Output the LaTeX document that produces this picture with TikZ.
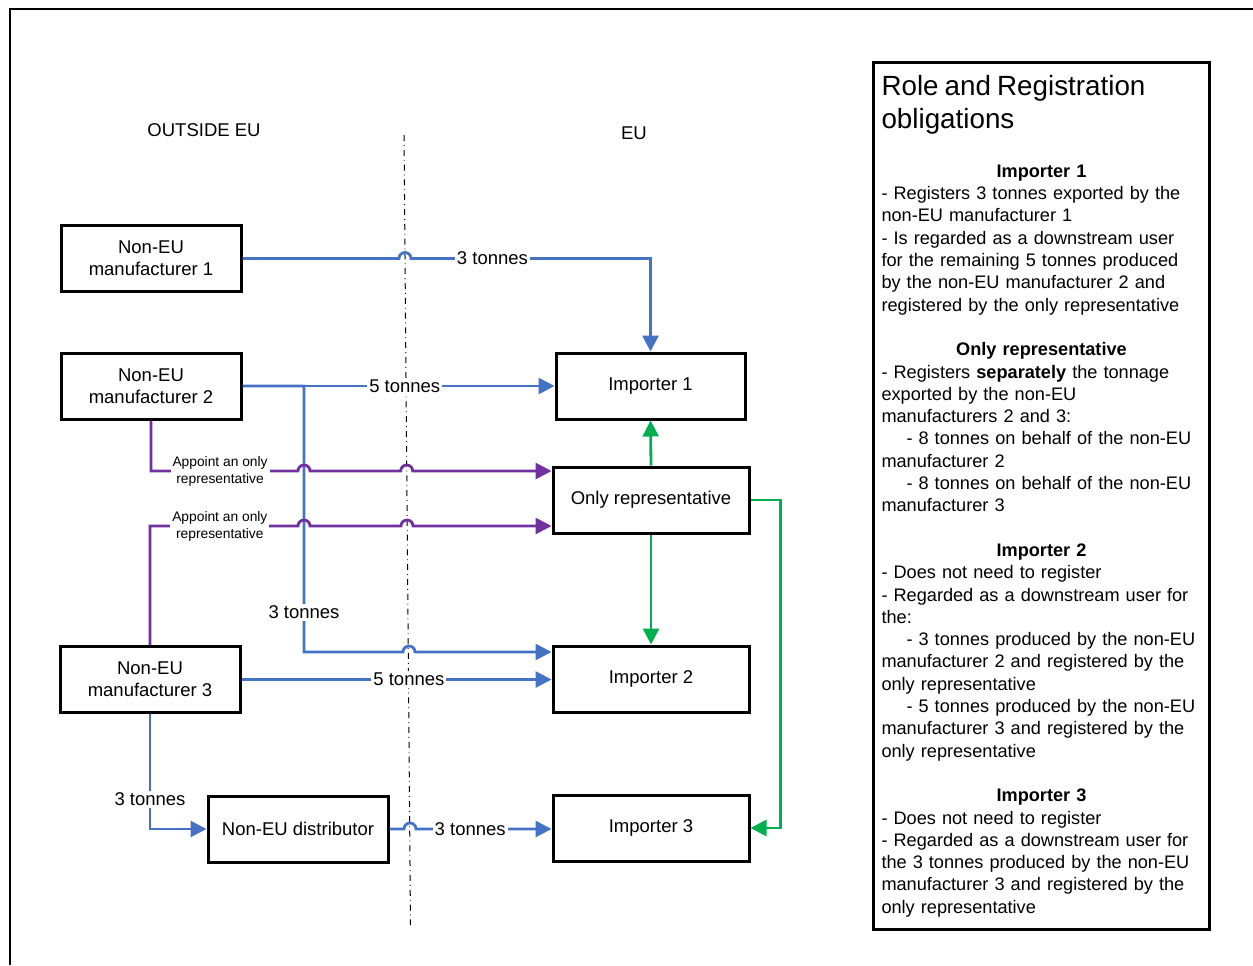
\documentclass[tikz,border=0pt]{standalone}
\usepackage{fontspec}
\setmainfont{Liberation Sans}
\usetikzlibrary{calc,arrows.meta}

\definecolor{flowblue}{RGB}{68,114,196}
\definecolor{apppurple}{RGB}{112,48,160}
\definecolor{orgreen}{RGB}{0,176,80}

\tikzstyle{box}=[draw, line width=1.5pt, align=center, minimum width=90pt, minimum height=33pt, inner sep=2pt]
\tikzstyle{flow}=[flowblue, line width=1.4pt, -{Triangle[length=8pt,width=8pt]}]
\tikzstyle{appoint}=[apppurple, line width=1.4pt, -{Triangle[length=8pt,width=8pt]}]
\tikzstyle{orflow}=[orgreen, line width=1.4pt, -{Triangle[length=8pt,width=8pt]}]
\tikzstyle{lbl}=[fill=white, inner sep=1pt, text=black]
\tikzstyle{smalllbl}=[fill=white, inner sep=1pt, text=black, align=center, font=\fontsize{6.9}{8.5}\selectfont]
\tikzstyle{panel}=[draw, line width=1.5pt, anchor=north west, align=left, text width=160pt, inner xsep=4pt, minimum height=433.5pt, font=\fontsize{9.08}{11.15}\selectfont]

\begin{document}
\begin{tikzpicture}[x=0.5pt, y=-0.5pt, every node/.style={font=\fontsize{9.25}{11}\selectfont}]
  \useasboundingbox (0,0) rectangle (1253,965);
  \draw[line width=1.25pt] (10,965) -- (10,9) -- (1253,9);

  \node (outside) at (204,130) {OUTSIDE EU};
  \node (eu) at (634,133) {EU};
  \coordinate (bt) at (404,135);
  \coordinate (bb) at (410.5,925);
  \draw[dash dot, line width=0.5pt] (bt) -- (bb);

  \node[box] (m1) at (151,258.5) {Non-EU\\manufacturer 1};
  \node[box] (m2) at (151,386) {Non-EU\\manufacturer 2};
  \node[box] (m3) at (150,679.5) {Non-EU\\manufacturer 3};
  \node[box] (d) at (298,829) {Non-EU distributor};
  \node[box, minimum width=94.5pt] (i1) at (650.5,386) {Importer 1};
  \node[box, minimum width=98pt] (or) at (651,500) {Only representative};
  \node[box, minimum width=98pt] (i2) at (651,679) {Importer 2};
  \node[box, minimum width=98pt] (i3) at (651,828) {Importer 3};

  % tonnes going into the EU
  \draw[flow] (m1.east) -- (399,258.5) arc[start angle=180, end angle=360, radius=6]
    -- node[lbl, pos=0.34] {3 tonnes} (i1.north |- m1.east) -- (i1.north);
  \draw[flow] (m2.east) -- node[lbl, pos=0.52] {5 tonnes} (i1.west);
  \draw[flow] (m2.east) -- (304,386) -- node[lbl, pos=0.85] {3 tonnes} (304,652)
    -- (403,652) arc[start angle=180, end angle=360, radius=6] -- ([yshift=13.5pt]i2.west);
  \draw[flow] (m3.east) -- node[lbl, pos=0.54] {5 tonnes} (i2.west |- m3.east);
  \draw[flow] (m3.south) |- node[lbl, pos=0.37] {3 tonnes} (d.west);
  \draw[flow] (d.east) -- (404,829) arc[start angle=180, end angle=360, radius=6]
    -- node[lbl, pos=0.4] {3 tonnes} (i3.west |- d.east);

  % appointing the only representative
  \draw[appoint] (m2.south) |- node[smalllbl, pos=0.735] {Appoint an only\\representative} (298,471)
    arc[start angle=180, end angle=360, radius=6] -- (400.7,471)
    arc[start angle=180, end angle=360, radius=6] -- ([yshift=14.5pt]or.west);
  \draw[appoint] (m3.north) |- node[smalllbl, pos=0.736] {Appoint an only\\representative} (298,526)
    arc[start angle=180, end angle=360, radius=6] -- (401,526)
    arc[start angle=180, end angle=360, radius=6] -- ([yshift=-13pt]or.west);

  \draw[orflow] (or.north) -- (i1.south);
  \draw[orflow] (or.south) -- (i2.north);
  \draw[orflow] (or.east) -- ++(30,0) |- (i3.east);

  \node[panel] (roles) at (872,61) {%
    {\fontsize{13.9}{16.5}\selectfont Role and Registration\\obligations\par}
    \vspace{13.5pt}
    \makebox[\hsize]{\textbf{Importer 1}}\\
    - Registers 3 tonnes exported by the\\
    non-EU manufacturer 1\\
    - Is regarded as a downstream user\\
    for the remaining 5 tonnes produced\\
    by the non-EU manufacturer 2 and\\
    registered by the only representative\\[11.15pt]
    \makebox[\hsize]{\textbf{Only representative}}\\
    - Registers \textbf{separately} the tonnage\\
    exported by the non-EU\\
    manufacturers 2 and 3:\\
    \hspace*{12.5pt}- 8 tonnes on behalf of the non-EU\\
    manufacturer 2\\
    \hspace*{12.5pt}- 8 tonnes on behalf of the non-EU\\
    manufacturer 3\\[11.15pt]
    \makebox[\hsize]{\textbf{Importer 2}}\\
    - Does not need to register\\
    - Regarded as a downstream user for\\
    the:\\
    \hspace*{12.5pt}- 3 tonnes produced by the non-EU\\
    manufacturer 2 and registered by the\\
    only representative\\
    \hspace*{12.5pt}- 5 tonnes produced by the non-EU\\
    manufacturer 3 and registered by the\\
    only representative\\[11.15pt]
    \makebox[\hsize]{\textbf{Importer 3}}\\
    - Does not need to register\\
    - Regarded as a downstream user for\\
    the 3 tonnes produced by the non-EU\\
    manufacturer 3 and registered by the\\
    only representative};
\end{tikzpicture}
\end{document}
